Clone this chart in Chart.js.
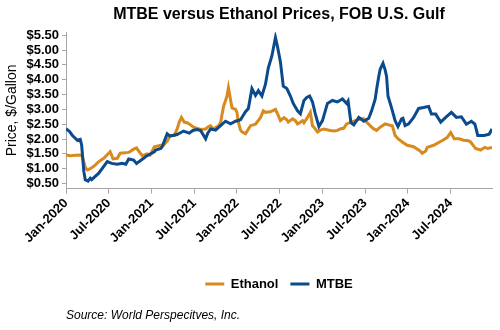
<!DOCTYPE html>
<html>
<head>
<meta charset="utf-8">
<title>MTBE versus Ethanol Prices</title>
<script src="https://cdn.jsdelivr.net/npm/chart.js@4.4.0/dist/chart.umd.min.js"></script>
<style>
  html, body { margin: 0; padding: 0; background: #fff; }
  #wrap { width: 500px; height: 330px; }
</style>
</head>
<body>
<div id="wrap"><canvas id="lineChart" width="500" height="330"></canvas></div>
<script>
// months since Jan 2020, price in $/gallon
const ethanolMonths = [0.0, 0.6, 1.3, 2.0, 2.3, 2.7, 3.0, 3.4, 3.9, 4.6, 5.3, 6.2, 6.6, 7.2, 7.6, 8.8, 9.5, 9.9, 10.1, 10.7,
  11.4, 11.8, 12.4, 13.3, 13.7, 14.3, 14.6, 15.2, 15.6, 15.9, 16.2, 16.6, 17.0, 17.3, 17.9, 18.9, 19.6, 20.0, 20.3, 20.7,
  21.4, 21.7, 22.1, 22.6, 22.8, 23.3, 23.8, 24.0, 24.2, 24.5, 24.7, 25.2, 25.9, 26.6, 27.3, 27.7, 28.0, 28.7, 29.4, 29.8,
  30.1, 30.6, 31.0, 31.2, 31.8, 32.2, 32.5, 32.8, 33.2, 33.4, 33.9, 34.3, 34.6, 34.8, 35.3, 35.7, 36.2, 37.1, 37.7, 38.1,
  38.5, 39.0, 39.4, 40.6, 41.5, 41.8, 42.2, 42.9, 43.2, 43.6, 44.1, 44.8, 45.7, 45.8, 46.2, 46.6, 47.2, 47.9, 48.8, 49.7,
  50.0, 50.5, 50.7, 51.6, 52.9, 53.5, 54.0, 54.5, 55.2, 55.8, 56.5, 56.8, 57.5, 58.2, 58.8, 59.2, 59.8];
const ethanolPrices = [1.46, 1.44, 1.45, 1.46, 1.41, 1.05, 0.96, 1.00, 1.08, 1.24, 1.35, 1.57, 1.33, 1.35, 1.52, 1.55, 1.66, 1.70, 1.63, 1.44,
  1.50, 1.46, 1.74, 1.79, 1.79, 1.96, 2.12, 2.12, 2.34, 2.57, 2.73, 2.57, 2.55, 2.51, 2.40, 2.32, 2.34, 2.42, 2.45, 2.34,
  2.45, 2.55, 3.08, 3.45, 3.73, 3.05, 3.00, 2.90, 2.57, 2.30, 2.24, 2.18, 2.45, 2.50, 2.72, 2.95, 2.90, 2.92, 3.00, 2.79,
  2.62, 2.72, 2.65, 2.57, 2.68, 2.62, 2.51, 2.55, 2.62, 2.55, 2.73, 2.90, 2.45, 2.40, 2.24, 2.30, 2.34, 2.29, 2.27, 2.29,
  2.34, 2.37, 2.51, 2.62, 2.68, 2.68, 2.57, 2.40, 2.34, 2.29, 2.40, 2.51, 2.45, 2.45, 2.12, 2.01, 1.90, 1.79, 1.74, 1.60,
  1.52, 1.60, 1.72, 1.79, 1.96, 2.05, 2.22, 2.01, 2.01, 1.96, 1.94, 1.90, 1.68, 1.63, 1.72, 1.68, 1.72];

const mtbeMonths = [0.0, 0.5, 0.9, 1.6, 2.0, 2.2, 2.5, 2.7, 3.1, 3.4, 3.6, 4.6, 5.3, 5.8, 6.4, 7.2, 7.9, 8.4, 8.8, 9.5,
  9.9, 10.9, 11.2, 12.4, 12.6, 13.3, 13.5, 14.2, 14.6, 15.6, 16.5, 17.3, 17.8, 18.4, 18.9, 19.6, 19.9, 20.3, 21.0, 21.7,
  22.4, 23.1, 23.8, 24.5, 25.2, 25.6, 26.1, 26.6, 27.0, 27.5, 28.0, 28.4, 28.9, 29.4, 29.7, 30.1, 30.5, 31.0, 31.5, 31.9,
  32.5, 32.9, 33.4, 33.8, 34.2, 34.6, 35.0, 35.5, 36.0, 36.7, 37.4, 38.1, 38.8, 39.4, 39.6, 40.0, 40.4, 41.1, 41.8, 42.5,
  42.9, 43.4, 43.6, 43.9, 44.1, 44.5, 44.8, 45.0, 45.2, 45.7, 46.2, 46.6, 47.1, 47.3, 47.6, 48.1, 48.8, 49.5, 50.2, 50.9,
  51.3, 51.9, 52.6, 53.3, 54.1, 54.8, 55.5, 56.2, 56.9, 57.4, 57.8, 58.7, 59.4, 59.8];
const mtbePrices = [2.35, 2.25, 2.12, 1.96, 1.99, 1.79, 0.91, 0.63, 0.58, 0.68, 0.63, 0.85, 1.08, 1.24, 1.18, 1.15, 1.18, 1.15, 1.33, 1.29,
  1.18, 1.35, 1.41, 1.57, 1.63, 1.68, 1.74, 2.18, 2.10, 2.15, 2.27, 2.20, 2.29, 2.32, 2.29, 2.01, 2.20, 2.34, 2.30, 2.45,
  2.60, 2.51, 2.60, 2.65, 2.92, 3.03, 3.70, 3.47, 3.63, 3.45, 3.85, 4.40, 4.80, 5.42, 5.10, 4.60, 3.78, 3.70, 3.45, 3.20,
  2.95, 2.85, 3.30, 3.40, 3.45, 3.25, 2.85, 2.42, 2.62, 3.20, 3.30, 3.25, 3.35, 3.20, 3.28, 2.55, 2.48, 2.73, 2.60, 2.70,
  2.95, 3.34, 3.67, 4.11, 4.35, 4.55, 4.33, 4.11, 3.45, 3.05, 2.62, 2.42, 2.68, 2.70, 2.45, 2.51, 2.73, 3.03, 3.06, 3.10,
  2.84, 2.84, 2.57, 2.73, 2.90, 2.73, 2.75, 2.50, 2.60, 2.50, 2.12, 2.12, 2.16, 2.34];

const tickMonths = [0, 6, 12, 18, 24, 30, 36, 42, 48, 54];
const tickLabels = ['Jan-2020', 'Jul-2020', 'Jan-2021', 'Jul-2021', 'Jan-2022',
  'Jul-2022', 'Jan-2023', 'Jul-2023', 'Jan-2024', 'Jul-2024'];
const priceTicks = [0.5, 1.0, 1.5, 2.0, 2.5, 3.0, 3.5, 4.0, 4.5, 5.0, 5.5];

const toPoints = (months, prices) => months.map((m, i) => ({ x: m, y: prices[i] }));

Chart.defaults.font.family = "'Liberation Sans', Arial, sans-serif";
Chart.defaults.color = '#000';

const ctx = document.getElementById('lineChart').getContext('2d');

new Chart(ctx, {
  type: 'line',
  data: {
    datasets: [
      {
        label: 'MTBE',
        data: toPoints(mtbeMonths, mtbePrices),
        borderColor: '#0B4A8B',
        backgroundColor: '#0B4A8B',
        borderWidth: 3,
        pointRadius: 0,
        tension: 0,
      },
      {
        label: 'Ethanol',
        data: toPoints(ethanolMonths, ethanolPrices),
        borderColor: '#D98A1F',
        backgroundColor: '#D98A1F',
        borderWidth: 3,
        pointRadius: 0,
        tension: 0,
      },
    ],
  },
  options: {
    responsive: false,
    animation: false,
    layout: { padding: { left: 0, right: 8, top: 0, bottom: 0 } },
    scales: {
      x: {
        type: 'linear',
        min: 0,
        max: 59.8,
        afterBuildTicks: (axis) => { axis.ticks = tickMonths.map((v) => ({ value: v })); },
        afterFit: (scale) => { scale.height = 77; },
        grid: { drawOnChartArea: false, drawTicks: true, tickLength: 5, color: '#A6A6A6' },
        border: { color: '#A6A6A6', width: 1 },
        ticks: {
          autoSkip: false,
          minRotation: 45,
          maxRotation: 45,
          padding: 2,
          font: { size: 13, weight: 'bold' },
          callback: (v) => tickLabels[tickMonths.indexOf(v)],
        },
      },
      y: {
        min: 0.33,
        max: 5.6,
        afterBuildTicks: (axis) => { axis.ticks = priceTicks.map((v) => ({ value: v })); },
        afterFit: (scale) => { scale.width = 66; },
        grid: { drawOnChartArea: false, drawTicks: true, tickLength: 4, color: '#A6A6A6' },
        border: { color: '#A6A6A6', width: 1 },
        ticks: {
          autoSkip: false,
          padding: 3,
          font: { size: 13, weight: 'bold' },
          callback: (v) => '$' + Number(v).toFixed(2),
        },
        title: {
          display: true,
          text: 'Price, $/Gallon',
          font: { size: 14 },
          padding: { top: 4, bottom: 0 },
        },
      },
    },
    plugins: {
      title: {
        display: true,
        fullSize: false,
        text: 'MTBE versus Ethanol Prices, FOB U.S. Gulf',
        font: { size: 16, weight: 'bold' },
        padding: { top: 5, bottom: 8 },
      },
      legend: {
        display: true,
        position: 'bottom',
        fullSize: false,
        labels: {
          usePointStyle: true,
          pointStyle: 'line',
          pointStyleWidth: 19,
          padding: 12,
          font: { size: 13, weight: 'bold' },
          sort: (a, b) => b.datasetIndex - a.datasetIndex,
        },
      },
      subtitle: {
        display: true,
        position: 'bottom',
        align: 'start',
        fullSize: false,
        text: 'Source: World Perspecitves, Inc.',
        font: { size: 12, style: 'italic' },
        padding: { top: 8, bottom: 7 },
      },
      tooltip: { enabled: false },
    },
  },
});
</script>
</body>
</html>
